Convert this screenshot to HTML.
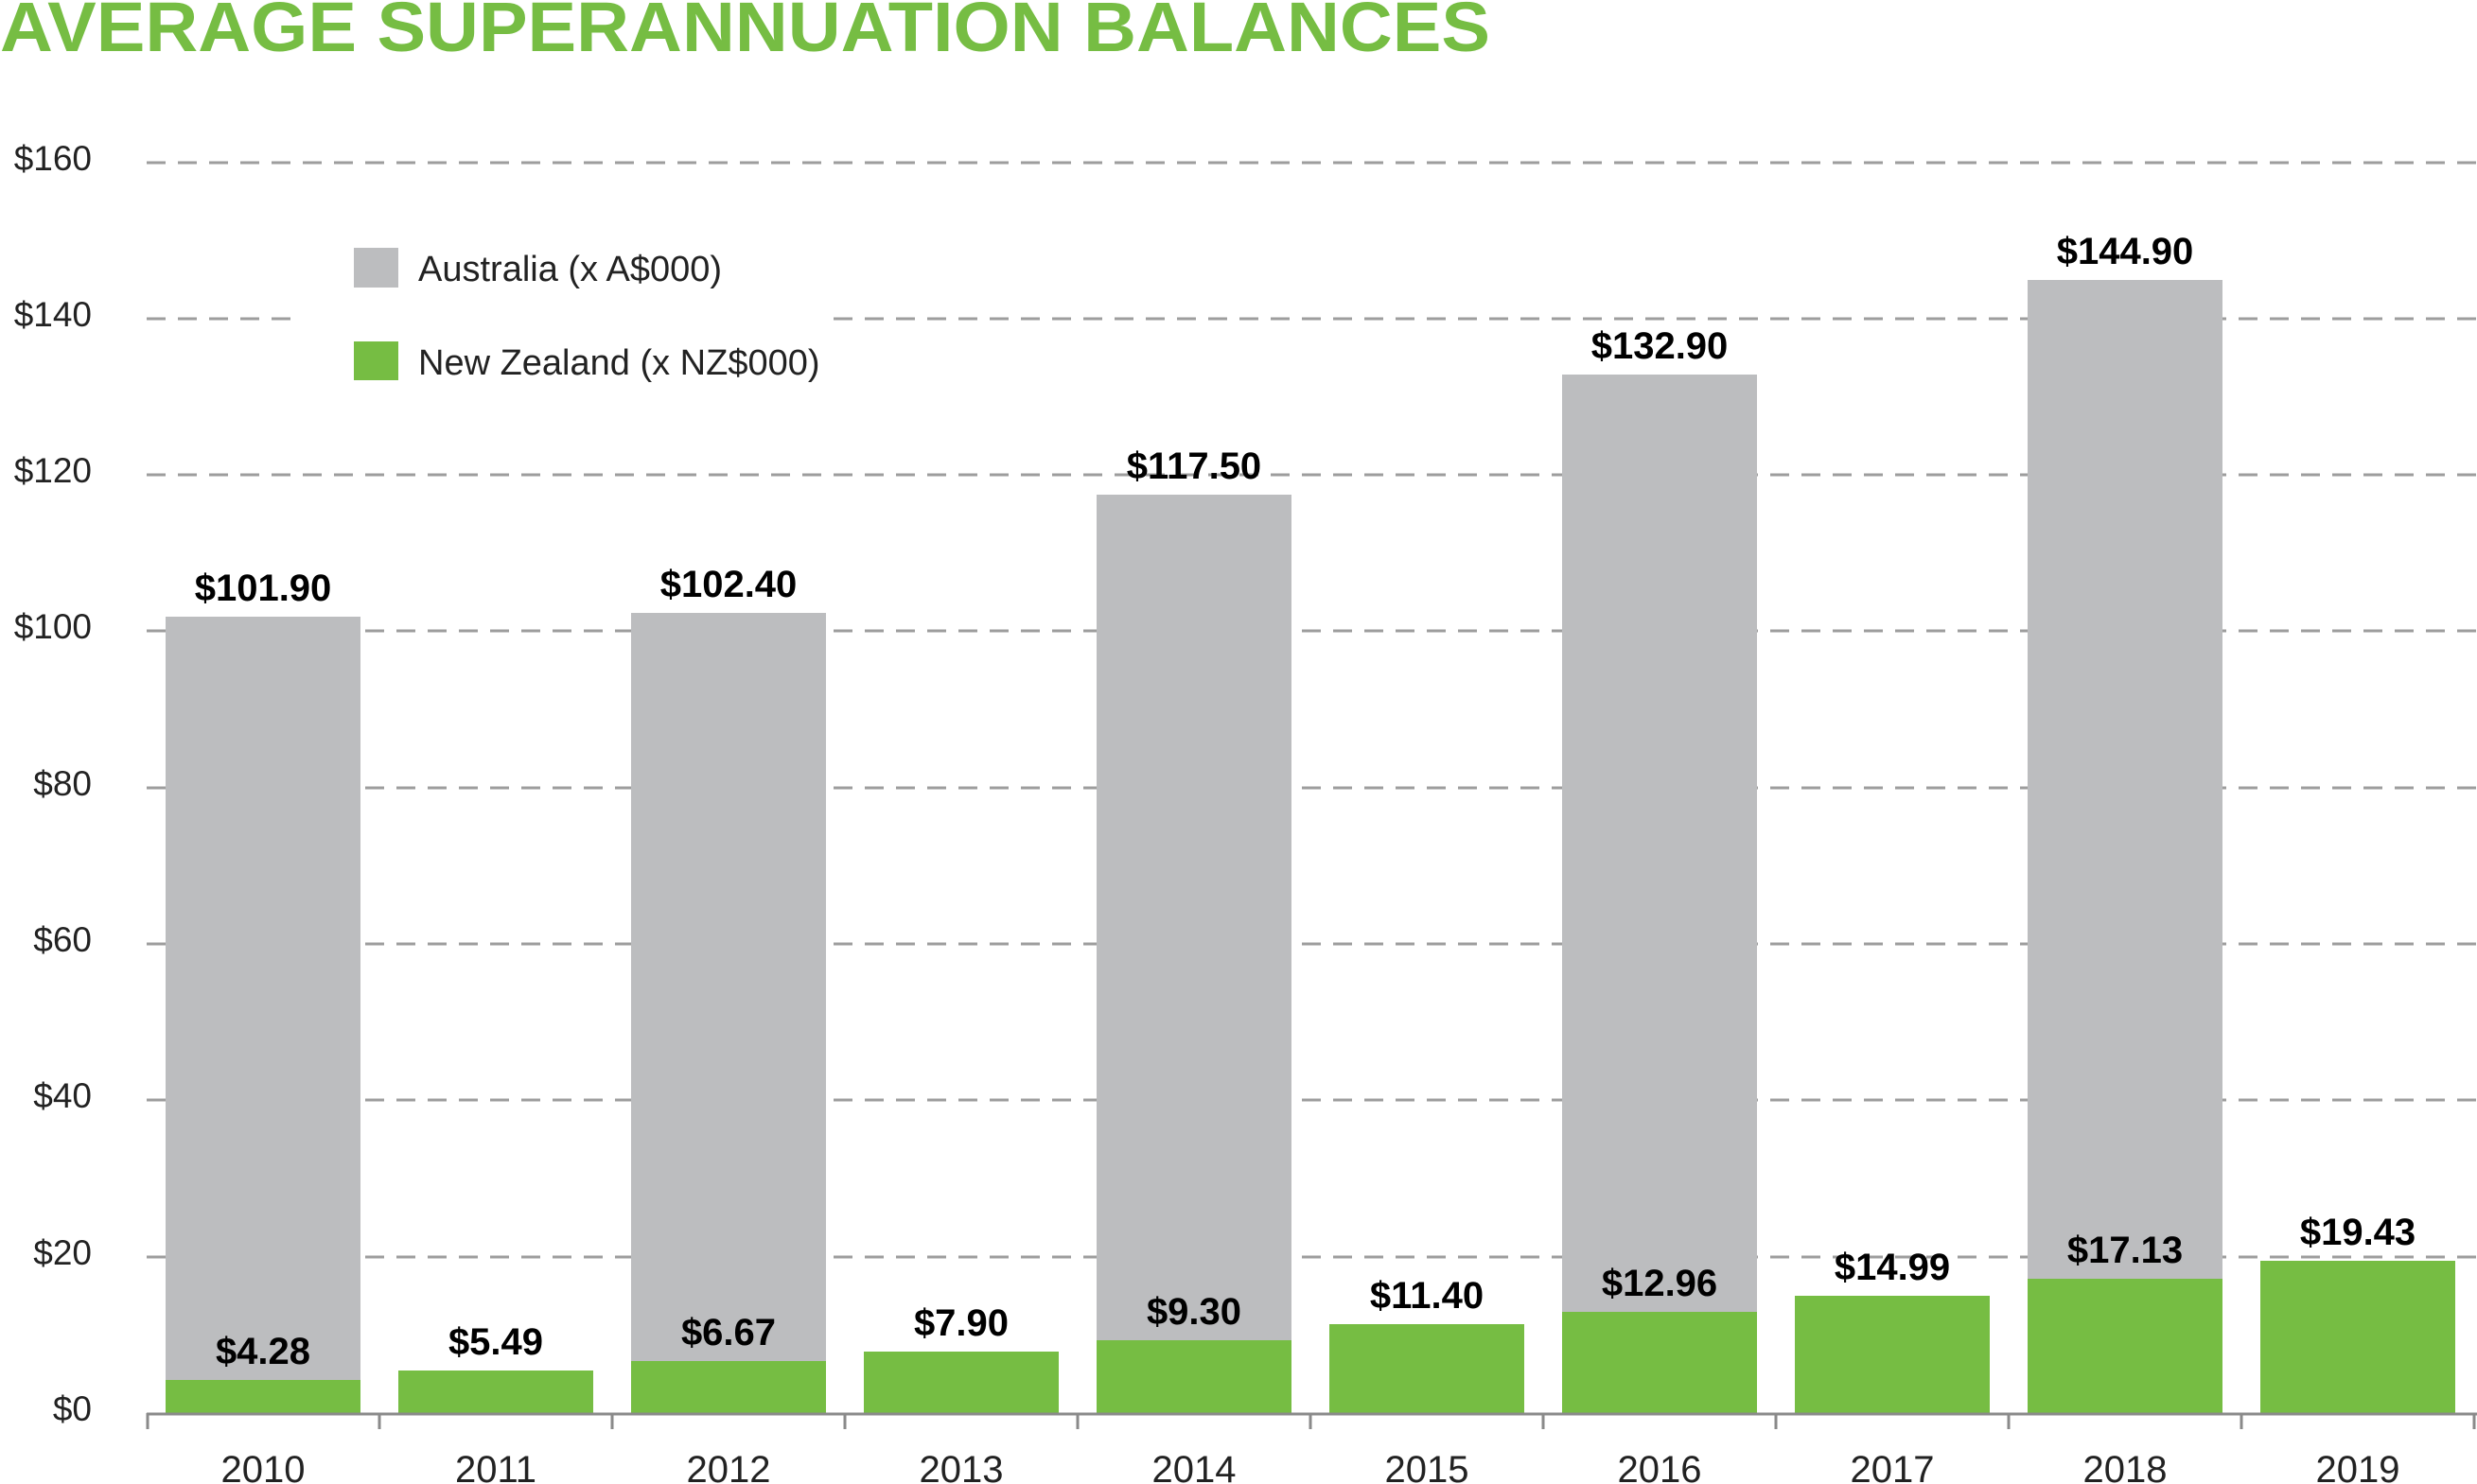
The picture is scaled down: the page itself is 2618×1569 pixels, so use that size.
<!DOCTYPE html>
<html><head><meta charset="utf-8"><style>html,body{margin:0;padding:0;background:#fff}svg{display:block}</style></head>
<body>
<svg width="2618" height="1569" viewBox="0 0 2618 1569" xmlns="http://www.w3.org/2000/svg" font-family="Liberation Sans, sans-serif">
<rect width="2618" height="1569" fill="#fff"/>
<text x="0" y="54" font-size="74" font-weight="bold" fill="#76bd43" textLength="1575" lengthAdjust="spacingAndGlyphs">AVERAGE SUPERANNUATION BALANCES</text>
<g stroke="#9d9d9d" stroke-width="3" stroke-dasharray="20,13">
<line x1="155" y1="172" x2="2618" y2="172"/>
<line x1="155" y1="337" x2="2618" y2="337"/>
<line x1="155" y1="502" x2="2618" y2="502"/>
<line x1="155" y1="667" x2="2618" y2="667"/>
<line x1="155" y1="833" x2="2618" y2="833"/>
<line x1="155" y1="998" x2="2618" y2="998"/>
<line x1="155" y1="1163" x2="2618" y2="1163"/>
<line x1="155" y1="1329" x2="2618" y2="1329"/>
</g>
<rect x="310" y="320" width="560" height="35" fill="#fff"/>
<g font-size="37" fill="#222" text-anchor="end">
<text x="97" y="180">$160</text>
<text x="97" y="345">$140</text>
<text x="97" y="510">$120</text>
<text x="97" y="675">$100</text>
<text x="97" y="841">$80</text>
<text x="97" y="1006">$60</text>
<text x="97" y="1171">$40</text>
<text x="97" y="1337">$20</text>
<text x="97" y="1502">$0</text>
</g>
<rect x="374" y="262" width="47" height="42" fill="#bcbdbf"/>
<rect x="374" y="361" width="47" height="41" fill="#76bd43"/>
<text x="442" y="297" font-size="38" fill="#222">Australia (x A$000)</text>
<text x="442" y="396" font-size="38" fill="#222">New Zealand (x NZ$000)</text>
<g fill="#bcbdbf">
<rect x="175" y="652" width="206" height="842"/>
<rect x="667" y="648" width="206" height="846"/>
<rect x="1159" y="523" width="206" height="971"/>
<rect x="1651" y="396" width="206" height="1098"/>
<rect x="2143" y="296" width="206" height="1198"/>
</g>
<g fill="#76bd43">
<rect x="175" y="1459" width="206" height="35"/>
<rect x="421" y="1449" width="206" height="45"/>
<rect x="667" y="1439" width="206" height="55"/>
<rect x="913" y="1429" width="206" height="65"/>
<rect x="1159" y="1417" width="206" height="77"/>
<rect x="1405" y="1400" width="206" height="94"/>
<rect x="1651" y="1387" width="206" height="107"/>
<rect x="1897" y="1370" width="206" height="124"/>
<rect x="2143" y="1352" width="206" height="142"/>
<rect x="2389" y="1333" width="206" height="161"/>
</g>
<g font-size="40" font-weight="bold" fill="#000" text-anchor="middle">
<text x="278" y="635">$101.90</text>
<text x="770" y="631">$102.40</text>
<text x="1262" y="506">$117.50</text>
<text x="1754" y="379">$132.90</text>
<text x="2246" y="279">$144.90</text>
<text x="278" y="1442">$4.28</text>
<text x="524" y="1432">$5.49</text>
<text x="770" y="1422">$6.67</text>
<text x="1016" y="1412">$7.90</text>
<text x="1262" y="1400">$9.30</text>
<text x="1508" y="1383">$11.40</text>
<text x="1754" y="1370">$12.96</text>
<text x="2000" y="1353">$14.99</text>
<text x="2246" y="1335">$17.13</text>
<text x="2492" y="1316">$19.43</text>
</g>
<g stroke="#8a8a8a" stroke-width="3">
<line x1="155" y1="1495" x2="2618" y2="1495"/>
<line x1="156" y1="1494" x2="156" y2="1511"/>
<line x1="401" y1="1494" x2="401" y2="1511"/>
<line x1="647" y1="1494" x2="647" y2="1511"/>
<line x1="893" y1="1494" x2="893" y2="1511"/>
<line x1="1139" y1="1494" x2="1139" y2="1511"/>
<line x1="1385" y1="1494" x2="1385" y2="1511"/>
<line x1="1631" y1="1494" x2="1631" y2="1511"/>
<line x1="1877" y1="1494" x2="1877" y2="1511"/>
<line x1="2123" y1="1494" x2="2123" y2="1511"/>
<line x1="2369" y1="1494" x2="2369" y2="1511"/>
<line x1="2615" y1="1494" x2="2615" y2="1511"/>
</g>
<g font-size="40" fill="#222" text-anchor="middle">
<text x="278" y="1567">2010</text>
<text x="524" y="1567">2011</text>
<text x="770" y="1567">2012</text>
<text x="1016" y="1567">2013</text>
<text x="1262" y="1567">2014</text>
<text x="1508" y="1567">2015</text>
<text x="1754" y="1567">2016</text>
<text x="2000" y="1567">2017</text>
<text x="2246" y="1567">2018</text>
<text x="2492" y="1567">2019</text>
</g>
</svg>
</body></html>
